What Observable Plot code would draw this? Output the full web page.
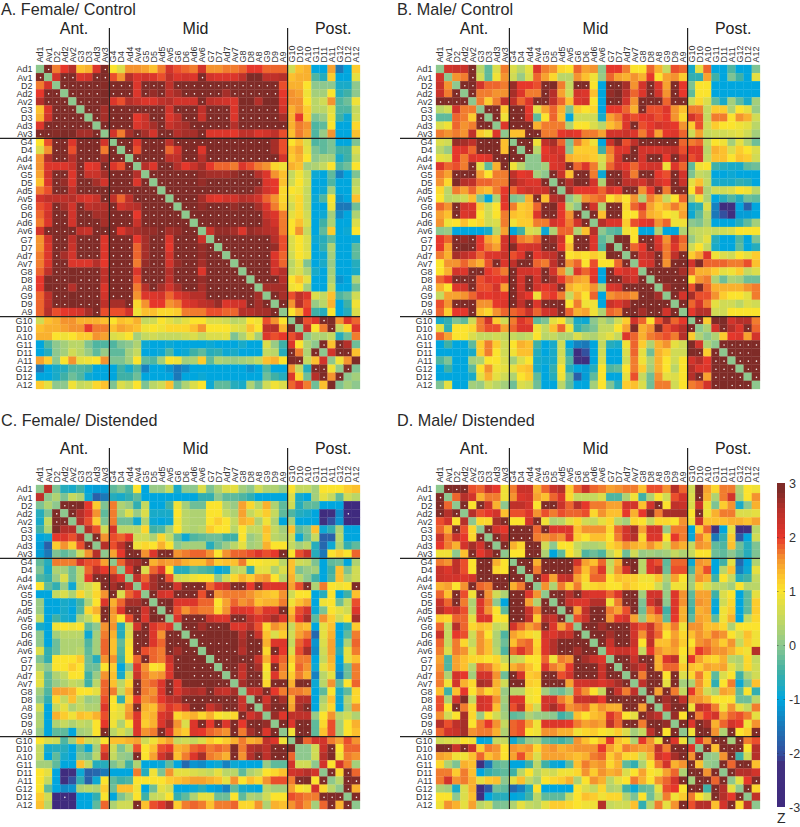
<!DOCTYPE html>
<html><head><meta charset="utf-8">
<script src="https://cdn.jsdelivr.net/npm/d3@7"></script>
<script src="https://cdn.jsdelivr.net/npm/@observablehq/plot@0.6"></script>
<style>
html,body{margin:0;padding:0;background:#fff;overflow:hidden}
#page{position:relative;width:800px;height:827px;font-family:"Liberation Sans",Arial,sans-serif;color:#2a2a2a}
#page>div{position:absolute;line-height:1;white-space:nowrap}
svg{display:block}
</style></head><body><div id="page"></div>
<script>
const labels = ["Ad1","Av1","D2","Ad2","Av2","G3","D3","Ad3","Av3","G4","D4","Ad4","Av4","G5","D5","Ad5","Av5","G6","D6","Ad6","Av6","G7","D7","Ad7","Av7","G8","D8","A8","G9","D9","A9","G10","D10","A10","G11","D11","A11","G12","D12","A12"];
const regions = [["Ant.","Av2"],["Mid","Ad6"],["Post.","A11"]];
const dividers = ["G4","G10"];
// z beyond +-3 marks a significant (dotted) cell; K is a saturated cell without dot
const S=3.5, K=3, N=-3.5;
// upper triangles: row i holds columns i+1 .. 39
const femaleControl = [
[S,1.7,2,2.5,1.3,1.4,2.1,S, 1,.7,1.6,1.6,1.5,1.3,1.7,2.2,1.9,1.8,1.7, 2.2,1.6,1.6,1.7,1.7,1.8,2,2,1.8,1.8,1.8, .6,1.3,1.4,-1,-1,1.5,-1.5,-1,1.2],
[2.2,S,S,2.1,2.2,S,S, 1.9,1.6,2.5,2.1,2.2,2.1,1.9,2.4,2.1,2.2,2.1, S,2.2,2.1,2.1,2.1,2.4,K,K,2.4,2.4,2.5, 1.3,1.4,1.4,-.4,-.7,1.2,-1,-1,.8],
[S,S,S,S,S,2.8, S,S,S,2.1,S,S,S,2.4,S,S,S, S,S,S,S,S,S,S,S,S,S,1.9, 1.4,1.4,1,0,0,0,-.8,-.8,0],
[S,S,S,S,K, S,S,S,2.1,S,2.7,S,2.4,2.6,S,S, S,S,S,2.6,S,S,S,S,S,S,2, 1.6,1.5,.9,.2,.2,1,-.7,-.5,0],
[S,S,S,K, 2.1,1.9,2.5,2.3,2.1,2.1,2.4,2.5,2.2,2.2,2.2, S,2.4,2.3,2.2,2.1,K,K,2.5,K,K,2.1, 1.6,1.6,1,.4,.6,1.6,-.4,-.2,.9],
[S,S,2.6, S,S,S,S,S,S,S,2.2,S,S,S, 2.4,S,S,S,2.1,S,S,S,S,S,2.2, 1.4,1.6,1.2,.4,.4,.8,-.4,-.4,.5],
[S,2.6, S,S,S,2,2.3,S,S,2.1,2.4,S,S, 2.3,S,S,S,2.1,S,S,S,S,S,2.6, 1.4,2,1.2,-.1,.1,.9,-.5,-.9,.6],
[S, S,S,S,2.1,2.3,2.6,S,2.3,2.5,2.6,S, S,S,S,S,2.5,S,S,S,S,S,S, 1.4,1.7,1.6,-.4,-.3,1,-1,-1,1.1],
[2.2,1.7,2.6,S,2.6,2.2,S,S,2.5,2.6,2.6, S,2.1,2.1,2.1,2,2.4,2.4,2.1,2.2,2.4,1.9, 1.3,1.7,1.5,-.4,.1,1.6,-1,-1,1.3],
[S,S,2.1,S,S,S,2.4,S,S,S, S,S,S,S,S,S,S,S,S,2.6,1.9, 1,1.3,.7,-.4,-.3,-.1,-1,-1,-.1],
[S,1.9,S,S,S,1.8,2.2,S,S, 2.1,S,S,S,S,S,S,S,S,2.6,1.9, 1.3,1.5,.8,-.1,-.3,-.1,-.5,-.5,.7],
[S,S,S,S,2.4,2.4,S,S, 2.5,S,S,S,S,S,S,S,S,S,2.2, 1.2,1.4,1,0,.2,.2,-.8,-.5,.5],
[2.5,2.1,S,S,2.5,2,2.3, 2.6,2,1.8,1.8,1.7,2.1,1.9,1.7,1.6,1.1,.9, 1.4,1.3,.2,.3,.5,1,-.4,-.2,1],
[S,S,S,S,S,S, 2.7,2.6,2.6,2.6,2.7,S,S,2.5,2.1,1.6,1.3, .5,.9,.5,-.9,-1,-.3,-1.4,-1,-.1],
[S,S,S,S,S, 2.7,S,S,S,S,S,S,S,2.1,2,1.3, .6,1,.6,-1,-1,-.4,-1,-1,.4],
[S,S,S,S, S,S,S,S,S,S,S,2.6,2.2,2,1.1, 1,.9,.5,-1,-.9,.2,-1,-1,.6],
[S,S,S, 2.6,2.1,2,2.2,2.2,2.5,2.4,2.2,1.8,1.6,1.1, .8,1.1,.5,-.9,-.4,1,-1.2,-1,1.3],
[S,S, 2.7,S,S,S,2.7,S,S,2.6,2.1,1.7,1.2, .6,1.1,.5,-1,-1,.9,-1.5,-1.5,-.2],
[S, S,S,S,S,S,S,S,S,2.3,2.1,1.7, .8,1.1,.6,-1,-.9,.2,-1.3,-1,.3],
[S,S,S,S,S,S,S,S,2.5,2.2,1.7, 1,1.3,.7,-1,-.5,.3,-1,-1,.7],
[2.3,2.7,2.7,2.6,2.1,2.7,2.6,2.5,2.4,1.7, 1,1.6,.5,-1,-.3,1.2,-1,-.9,1],
[S,S,S,S,S,S,S,2.5,1.9, .7,1,.7,-.9,-.7,-.3,-1,-1,-.9],
[S,S,S,S,S,S,2.7,1.9, .7,1,.7,-1,-.6,.3,-1,-1,-.3],
[S,S,S,S,S,2.1,1.8, .6,1,.8,-1,-.9,.2,-1,-1,-.3],
[S,S,S,S,2.2,1.8, .4,.8,-.1,-1,-.8,.1,-1,-1,-.7],
[S,S,S,2.2,2.5, .5,.7,.3,-.8,-1,.2,-1,-1,-.8],
[S,S,S,2.5, 1,1.3,.8,-1,-1,.3,-1.2,-1,.3],
[2.6,2.6,2.6, .9,1,.2,-1,-1,.5,-1,-1,-.2],
[S,2.6, 1.9,2.4,2.1,.7,.5,1.3,-.4,-.2,.6],
[S, 1.6,2.5,1.9,.1,.4,1.4,-1,-.5,.9],
[1,1.4,2,-.5,-.7,1,-1,-.7,.7],
[K,1.9,2.1,S,K,1.6,2.1,1.8],
[2.3,1,1.7,S,.5,1.1,2.1],
[.3,.3,.5,-.7,-.2,1.7],
[S,1.3,S,2.5,-.2],
[2.2,S,S,1.3],
[.9,1.6,K],
[S,-.1],
[.2],
[]
];
const maleControl = [
[2.2,2.3,2.3,S,.4,-.3,.7,1.7, .7,.4,.8,2.1,1.7,1.6,1.1,1,1.8,1.5,1.6, 0,2,2,1.7,1,1,1.8,1.4,.5,1.9,1.8, -.8,.8,1.8,-1,-1,-.4,-1,-1,-.1],
[1.6,1.7,S,.6,-.3,.9,1.6, .6,.1,.7,1.8,1.5,1.1,.4,.4,1.6,1.3,.9, .1,1.8,1.5,1.4,1.6,1.4,2,1,1.5,1.6,1.2, -.6,-.6,1.5,-.5,-1,-.1,-.5,-1,.8],
[S,S,2.2,1.8,1.8,1.7, 2.7,2,2,1.9,S,K,1.7,.5,S,S,1, -1,S,S,2.6,1.6,2.2,S,2.1,1.5,S,2, -.1,1,1,-1,-1,-1,-1,-1,-1],
[S,1.7,1.7,1.6,1.6, 2.6,2.1,1.7,1.7,S,2.5,1.5,.6,2.2,2.1,1.3, -1,2.7,K,2.4,1.8,2.1,S,2.2,1.6,S,2, -.3,1,1,-1,-1,-1,-1,-1,-1],
[1.7,1.2,1.7,2.4, 2.4,1.8,2.1,S,S,2.4,1.8,1.3,2.1,2.2,1, -1,S,S,2.2,1.6,S,S,S,1.8,S,S, .6,1.1,.7,-.3,-.8,.2,-.3,-.8,.2],
[S,S,1.2, S,S,2,.8,1.5,1.8,1.4,-.1,1.2,1,1.1, -1,2,2,1.8,1.4,S,1.9,1.9,2.1,1.6,1.3, 1.7,1.7,.5,1.2,1.2,.3,1,.8,.1],
[S,.9, S,S,2.1,-.3,1,1.8,1.3,-1,.6,.6,.6, -.8,1.5,1.7,2.1,1.9,2,2.1,1.9,2,1.6,1.1, 2.2,1.9,.5,1.7,1.7,1,1.6,1.4,.6],
[2.1, S,S,S,1.4,1.7,1.7,1.7,.3,1,1,.7, .4,1.3,1.5,2.1,S,1.9,2,2.2,2.1,2,1.6, 1.2,1.9,.6,1.2,1,1,.9,.8,.4],
[1.3,1.3,S,S,1.7,1.7,2,2.1,2,1.7,1.7, 1.5,2.2,2.2,2.3,2.1,1.7,2.1,1.5,2,2.1,1.8, .6,1.5,.5,.6,.6,.7,.8,.6,.2],
[S,S,.9,2.4,2.6,1.8,-.1,1.7,1.3,.9, -1,2.3,2.8,1.9,2.4,S,S,S,S,S,1.8, 1.7,1.8,.5,1,.9,.2,.8,.3,-.2],
[S,.4,2,2.3,2.1,0,1.2,1.2,1.2, -.5,1.7,2.1,2.1,S,2.2,2.2,2.2,2.3,2.4,1.9, 2.1,2.1,.4,1.4,1.3,.7,1.2,1,.7],
[0,2.1,2.1,2.3,1.4,1.3,1.3,1.2, .7,1.6,2.2,S,S,2.2,S,S,2,S,2.3, 1.9,2.1,.5,1.3,1.3,1,1.3,1.2,.6],
[.2,2.1,2.2,S,1.8,2.1,1.7, .6,1.8,2.2,2,1.8,2.1,2.2,2.2,.9,2.1,1.8, -.3,.9,1,-.5,-.7,-.8,-.8,-.3,-.2],
[S,2.3,1.3,S,S,1.7, -.9,S,S,2.3,1.7,S,S,2,1.9,S,2.2, -.1,.5,.4,-1,-1,-.9,-1,-1,-1],
[S,2.5,K,S,2.2, .3,2.7,S,2.4,2.4,2.2,2.6,2.2,2,S,2.3, .8,1.3,.5,-.8,-.8,-.8,-.6,-.7,-1],
[2.6,2,2,2, 1.8,2.2,2,S,S,1.6,2,S,1.7,S,S, 1,1.8,.3,.6,.6,.7,1,.9,.4],
[.4,1.6,1.7, 1.8,1,1.3,1,1.6,.3,1.7,1.4,.5,1,1.8, .2,.9,.3,-1,-.7,-.4,-.7,-.2,-.3],
[S,2.2, .3,S,S,1.1,1.8,2.1,1.5,1.2,1.4,1.7,1.4, -.8,-.6,.7,-1.4,-2.7,-2.2,-1,-1.8,-1],
[S, 1.3,S,S,1,1,1.8,1.4,1.3,1,.9,1.5, -.9,-.3,.4,-1.5,-2,-2.5,-1.1,-1.1,-1],
[2.5,2.1,2.1,1.2,1.9,2,2.1,1.6,1.8,.9,.9, 0,-.1,.3,-1,-1,-1,-.7,-.3,.2],
[-.3,-.4,.9,1,-1,-1,.3,-1,-1,.3, .4,.5,.6,.5,.6,.7,1,1,1],
[K,K,1,S,S,2.1,1.6,2.3,1.8, .1,.5,.8,-.7,-1,-1,-.4,-1,-.1],
[S,1.8,2,S,2.2,1.7,2.1,1.7, .6,1,.5,-.8,-1,-1,-.3,-1,-.7],
[S,2.2,2.4,S,1.7,2.4,S, 1.2,1.5,2.1,.9,.7,.6,1,.8,1.2],
[2.1,2.2,S,1.6,S,S, 2.2,K,1.8,1.8,1.8,1.7,1.7,1.9,1.3],
[S,S,S,S,2.6, 1.8,1.4,1.4,1.2,.8,.9,1.2,.5,.7],
[S,K,S,S, 1,1.6,1.7,.3,-.2,.3,.2,-.2,-.2],
[2.6,S,S, 1.9,K,1.8,1.4,1.4,1.4,1.4,1.6,1.7],
[S,2.2, 2.6,1.9,1.9,1.6,1.2,1,1,.8,1.7],
[S, 1.8,2.2,1.7,.8,.6,.6,.4,.7,.6],
[2,2.5,2.5,.6,.6,1,1,1,1],
[S,1.2,K,K,2.2,2.5,2.5,1.7],
[.3,2.2,S,2.5,2.1,S,1.8],
[.3,1.2,2,2.1,1.5,2.2],
[S,S,S,S,S],
[S,S,S,K],
[S,S,S],
[S,S],
[S],
[]
];
const femaleDistended = [
[2.4,-.1,-.7,-.8,-.5,-1,-1.1,-1.1, -.3,-.1,-.4,1,-1,.1,.1,.5,-.8,0,0, .7,-.1,.3,.7,.8,.2,0,.6,.3,.3,.1, 1,.5,.5,.2,1,1,1,1.2,1.3],
[.3,-.1,.5,.3,-.9,-1.8,-1.5, -.7,-.8,-.6,-.3,-1,-1,-1,-1,-1,-1,-1, -.6,-.6,0,-.3,-.3,-.4,-.6,-1,-1,-1,-1, .7,-.8,-1,.2,.8,.5,-.3,.6,.4],
[S,S,K,2,1.2,-.1, 1.7,.3,.1,-.6,.5,-1,-1,-.5,.9,.2,-.2, -.2,1,1,.3,.1,1.5,1.1,.5,1.4,.3,-.3, .6,-.7,-.3,-.3,-1,-1,-1,-3,-3],
[S,2.5,2.1,1.6,-.3, 1.7,.2,.7,.1,.7,-.8,-.8,-.8,1,.4,.3, .3,1,1,.5,.3,1.5,.5,.8,1.2,.5,-.3, -.4,-.7,-.8,-1,-2.8,-2.3,-1.3,N,-3],
[2.5,1.9,1.2,-.1, 1.7,-.2,-.2,-.9,.3,-.9,-1,-.9,.9,.4,.3, .3,1,1.2,1,.5,1.4,1.3,.3,.9,.3,-1, .2,-1,-1,-1,-2.2,-2,-1.2,-3,-2.8],
[2.5,1.9,.6, 2.2,.4,.4,.4,1.1,-.5,-.4,.2,1,.4,.3, .4,1.2,1,1,.4,1,.5,.5,1.3,.5,.2, 1.3,-.3,-.1,1.3,-.9,-.6,.3,-1,-1],
[S,1.6, 1.9,1.8,2,.6,.6,.3,1.1,.5,-.3,-.9,-.4, -.3,-.2,-.2,-.5,-.5,1,.1,.3,1.2,.4,.3, .6,-.9,-.2,.5,-1.8,-1.8,.4,-1,-1],
[2.5, 1.9,2.4,S,.9,1.1,1,1.4,1,0,.2,.2, .2,-.7,-.2,.1,.4,.8,.2,.3,1.4,1,1, .5,.2,.4,-.7,-1.7,-.9,.3,-.6,-.3],
[1.5,2,S,S,1.6,2.1,S,S,1.6,1.7,1.8, 1.8,1.6,1,1.6,1.8,1.8,1.9,2.1,1.9,2,S, 1,1.9,2.3,-.7,-1.5,1,1.2,1,1.8],
[1.8,2.5,2.6,S,1.4,1.6,1.5,1.6,1.4,1.3, 1.3,1.6,1.2,1.3,1.3,1.7,1,1,.9,.9,.4, 1.3,.6,.5,-.1,-1,-.3,-.2,-1,.3],
[2.1,S,.7,1.8,2.1,1,-.7,-.7,-.3, -.4,-.5,-1,-.8,.4,.5,-.6,.8,.8,.3,.7, 1.3,-.1,.1,.2,-1,-.5,1.3,-.1,.6],
[2.4,1.8,2.6,S,1.9,.6,.7,.9, 1,1,0,.6,1.1,1.4,1.2,1.5,1.6,1,.4, 1.4,.4,0,-.5,-1,-.4,1.3,.3,.6],
[2.1,2.6,S,S,2.2,S,S, S,1.8,2.1,2.3,S,S,2,S,2.1,2.1,2.1, 1.5,1.9,S,.3,1.7,1,.9,1,S],
[S,2.2,2.1,S,S,S, 1.9,S,1.6,1.7,1.7,1.7,1.6,1.4,1.3,1.2,1.6, .6,1,1,-1,-.7,1,-1,-.5,1.3],
[S,K,2.1,2.1,2.1, 1.8,1.8,1,1.5,1.8,1.6,1.7,1.3,1.4,1.4,1.7, .9,1.3,1.5,-1,.9,1,-.2,.5,1.9],
[S,1.9,1.6,1.8, 1.7,1.7,1.1,1.6,2.1,2.1,2,1.8,2.1,2.1,S, 1.3,1.9,2.2,-.9,-.1,1,.8,.6,2.1],
[2.1,S,S, S,2.3,2.1,2.1,S,S,2.4,2.1,2.3,2.6,2.1, 1.5,2,2.6,-.3,1.6,1.2,.6,1,2.6],
[S,S, 2.6,S,S,K,2.1,2.1,2.5,1.9,1.1,1.6,1.4, .5,1.4,1.3,-1,.8,1.3,-1,-.6,1.2],
[S, S,K,K,K,K,2.5,S,2.3,1.3,.7,1.2, .6,1.5,1.7,-1.7,.8,1.4,-1,-.3,1.7],
[S,S,S,S,K,2.6,S,S,1.4,2.1,2.1, .5,1.8,2.1,-1.2,.7,1.5,-.9,.3,1.8],
[K,S,S,S,2.5,S,S,1.1,S,2, .7,1.9,2.6,-1.3,.6,1.5,-.7,.8,1.7],
[S,S,K,S,S,2.3,1.4,2,1.8, 1.2,1.7,1.7,-1,.5,1.4,-1,.8,1.3],
[S,S,2.4,S,2.6,1,S,1.7, 1,1.8,1.6,-.9,.8,1.3,-1.1,-.2,1.7],
[S,2.3,S,S,.9,2.1,1.6, 1.2,1.7,1.4,-1.4,.4,.8,-1.4,-.2,1.7],
[2.6,S,S,1.1,S,S, 1.4,K,S,-.9,.4,1.6,-.3,1,1.8],
[2.3,2.3,S,2,1.7, 1.7,1.7,1.6,-1,-.3,1,-.8,-.3,1.1],
[S,2.2,S,2.6, 1.4,2.5,2.5,-1,.3,1.3,-.9,.3,1.1],
[2.5,S,S, 1.5,2.6,S,-1,.5,1.1,-1,.2,1.6],
[2.7,2.1, 2.4,2.4,2.4,.1,1,1.6,.4,.6,.3],
[S, 2.1,S,S,-.3,1.1,1.9,.2,1,1.4],
[.9,S,S,-.3,1.3,1.9,.2,1,1.3],
[K,1.8,2.2,2.2,1.7,1.5,1.9,1.6],
[0,.6,2.3,S,1,1.8,1.8],
[.6,2.5,K,.9,1.7,1.6],
[2.2,1,2.2,1.7,.2],
[S,1.1,S,1.8],
[.4,S,S],
[S,1.4],
[S],
[]
];
const maleDistended = [
[S,S,S,1.9,1.8,2.3,2,.9, 1.7,2.3,2.3,1.4,1.8,2.3,2.5,1.2,1.8,2.3,1.8, 1.7,1.5,1.6,1.7,1.7,1.3,1.9,1.9,1.6,2.5,1.8, .6,K,1.5,1.1,1.7,1.7,.3,1,.9],
[1.8,2.5,2.2,1.4,1.7,1.7,.9, 1.6,2.1,2.2,1.5,1.3,1.8,2.1,1.1,.5,.5,.5, .7,-.4,-.4,.3,.9,-.5,.3,1,.6,1.9,2.2, .7,S,1.4,.3,1.7,2.2,.2,1,1.6],
[S,1,S,2.3,1.4,0, 2.4,2.4,2.2,1,S,S,2.3,1.8,2.5,2,1.7, 1.7,1.5,1.5,2.2,2.2,1.3,2.2,S,1,2.4,2.3, .7,2.3,.9,-.1,1.2,1.6,-.8,0,1.4],
[2.5,1.9,2,2.2,1.3, 1.9,1.9,2.1,1.6,1.9,1.7,1.9,1.8,1.8,1.9,1.1, 1.6,1.3,1.3,2,1.4,2,K,1.7,2.6,2.6,2.6, 1,S,.9,1.4,1.7,1.7,.7,.7,.8],
[1.1,1.1,2.6,S, 1,1,2.2,S,.9,.3,.4,.8,1.1,.6,.5, .8,1.1,.4,.2,1.1,1,.5,1.1,1.1,1,1.6, .9,2.3,1.3,1.3,1.3,1.4,1.4,1.3,1.5],
[S,2.2,2, S,S,S,1.8,S,2.1,2.1,2.1,1.3,1.6,1.6, 1.6,1.1,1.8,2.2,2.6,1.5,2.2,2.2,.1,1.7,1.7, -1,1.2,1.8,-2.2,-1,.8,-2.5,-2.2,.4],
[S,2.4, S,S,S,1.7,1.6,1.7,1.6,2.1,1.2,1,1.3, 1.3,1,1.7,2.2,2.5,1.1,2.1,2.1,1,2,1.7, -.9,1.7,1.3,-1.5,-.6,1.2,-1.9,-1,.6],
[S, 1.4,1.1,S,S,.6,0,1,1,.5,.3,.3, .4,1.1,1.3,1.6,1.4,1.3,1.6,1.3,.6,1.6,1.4, .5,1.6,1.5,-.3,-.4,1.3,-.2,-.7,-.1],
[1,1,S,S,.3,-1,-.3,1,.6,-.4,-.2, -.4,.5,.9,-.2,.6,.1,.2,.1,.2,.5,.3, .5,1,1,-.2,-.3,0,-.3,-.7,-.1],
[S,S,1.4,S,S,S,S,2.2,1.5,1.3, 1.8,.5,1.4,S,S,.4,2.1,1.9,-.3,1.8,1.8, -.9,1.6,1.5,-1,-.5,.8,-1.7,-1,.3],
[S,1.7,S,S,S,S,1.8,1.3,1.7, 2.1,.6,1.6,2.2,S,.4,2.1,2.4,-.2,1.9,1.9, -.4,1.5,1.9,-1,.4,1.3,-1.4,-.9,.8],
[S,2.1,1.5,2.3,2.4,1.5,1.1,1.8, 1.8,1,1.3,1.2,1.2,.9,.9,1.3,.3,1.5,1, .1,1.6,1.4,-.5,1,.5,-.7,-.5,.5],
[1.6,.3,1.7,1.2,1.7,.9,1.1, 1.2,1,1,1.3,1.1,1,1,.6,.1,.9,.9, .2,1.1,.7,.4,.4,.2,1,.4,.4],
[S,S,2.5,S,2.2,2.1, 2.1,1.8,2.1,S,S,.2,2.2,2.2,.1,2.1,1.6, -.3,1.5,1.5,-.5,.7,1,-1,-.3,.8],
[S,2.3,2.1,2.1,2.5, 2.5,.9,1.7,S,S,-.1,2.2,2.6,0,2.1,1.6, -.4,1.6,1.5,-.9,.6,1.1,-1,-.3,1.2],
[S,1.5,2.4,S, S,1.7,1.5,1.9,S,-.2,1.7,2.1,-.5,2.1,1.4, -.5,1.4,1.5,-1,.9,1.2,-1,-.3,1.2],
[1.9,2.3,S, S,1.6,2,2.2,1.5,.1,1.4,1.6,-.3,2,1.4, -.3,1.5,1.4,-.3,.9,1.4,-1,.5,1.1],
[S,S, 2.6,S,S,S,2.2,1.9,2.3,1.7,1.3,1.7,.9, 1.6,1.6,1.3,1.3,1.1,.3,1,1,1],
[S, S,2.6,S,S,2.2,1.6,2.3,1.8,1,1.5,1.1, 1.3,1.6,1.4,1.7,1.6,1,.7,1.3,.9],
[S,2.3,S,S,2.3,1,2.4,1.3,1.3,1.6,1.2, 1,1.6,1.7,1.5,1.2,1.6,.5,1.2,.9],
[2.1,2.3,2.3,2.1,.5,2,1.6,1.4,1.5,1, 1.3,2,1.8,1.6,1.6,1.4,1.1,.9,2.5],
[S,S,2.3,S,S,1.4,2.1,2.4,.9, 2,1.5,1.2,1.1,1.4,.4,.3,1.1,.5],
[S,2.6,2.3,S,1.4,1.8,1.8,1.2, 1.3,1.2,1.5,1.4,1.5,.8,.4,1.1,.6],
[S,1.7,S,S,1,S,.7, 1.1,1.7,1.1,-.3,.7,1,-.5,.3,.6],
[2.4,S,S,.8,S,.2, .3,1.6,1.1,-.6,1,1.7,-.9,-.1,1.3],
[S,1.5,S,1.7,.5, 2,1.5,.6,.3,1.5,1.4,-.3,1,-.6],
[S,2.6,S,2.4, 1.6,1.6,1.4,1,1,1,-.2,-.2,.4],
[2.4,S,S, .9,2.4,2.2,1.7,.9,1.6,.8,.5,1.7],
[2.7,1, S,1.7,2,2.2,1.5,1.8,1.9,1.7,.8],
[S, 2.1,S,2.6,1.4,1.8,2.2,2,.9,1.6],
[.9,S,S,1.6,.3,S,1,1.2,S],
[2.1,1.6,S,S,.2,S,1.7,1.9],
[S,1.3,S,S,S,1,2.5],
[.1,1.6,S,-.5,.6,2.5],
[S,1.8,S,S,1.3],
[S,2.5,2.5,2.2],
[.8,2,S],
[S,1.1],
[2.4],
[]
];
const zStops  = [-3,-2.2,-2,-1.5,-1,-.5,0,.5,1,1.3,1.6,2,2.5,2.85,3];
const zColors = ["#3f2a7e","#40307f","#33509f","#1b78b8","#00a6de","#3fb0a6","#8ec88e","#c5d95f","#fbe32d","#fcc02e","#f4932f","#e6372b","#b5302a","#7f2b27","#7f2b27"];
const legendTicks = [-3,-2,-1,0,1,2,3];
const legendLevels = d3.range(-3,3,6/64);

const colorScale = {type:"linear",domain:zStops,range:zColors,clamp:true};
const font = '"Liberation Sans",Arial,sans-serif';
function cellsOf(rows){
  const out=[];
  labels.forEach((a,i)=>labels.forEach((b,j)=>{
    const z = i===j ? 0 : i<j ? rows[i][j-i-1] : rows[j][i-j-1];
    out.push({col:b,row:a,z});
  }));
  return out;
}
function panel(rows){
  const cells = cellsOf(rows);
  return Plot.plot({
    width:400,height:392,marginLeft:36,marginRight:40,marginTop:65,marginBottom:3,
    style:{fontFamily:font,background:"transparent",overflow:"visible"},
    x:{domain:labels,padding:0,round:false,axis:null},
    y:{domain:labels,padding:0,round:false,axis:null},
    color:colorScale,
    marks:[
      Plot.cell(cells,{x:"col",y:"row",fill:"z",stroke:"z",strokeWidth:.25}),
      Plot.dot(cells.filter(d=>Math.abs(d.z)>3),{x:"col",y:"row",r:0.8,fill:"#f4f0ee",stroke:null}),
      Plot.axisX({anchor:"top",label:null,tickSize:0,tickPadding:3,tickRotate:-90,fontSize:9,fill:"#333"}),
      Plot.axisY({anchor:"left",label:null,tickSize:0,tickPadding:4,fontSize:9,fill:"#333"}),
      Plot.ruleX(dividers,{dx:-4.05,insetTop:-37,stroke:"#222",strokeWidth:1.2}),
      Plot.ruleY(dividers,{dy:-4.05,insetLeft:-36,stroke:"#222",strokeWidth:1.2}),
      Plot.text(regions,{x:d=>d[1],text:d=>d[0],frameAnchor:"top",dx:1,dy:-43,fontSize:16,fill:"#222"})
    ]
  });
}
function legend(){
  return Plot.plot({
    width:40,height:350,marginLeft:17,marginRight:15,marginTop:13,marginBottom:13,
    style:{fontFamily:font,background:"transparent",overflow:"visible"},
    x:{domain:[0,1],axis:null},
    y:{domain:[-3,3],axis:null},
    color:colorScale,
    marks:[
      Plot.rect(legendLevels,{x1:()=>0,x2:()=>1,y1:d=>d,y2:d=>d+6/64,fill:d=>d+3/64,shapeRendering:"crispEdges"}),
      Plot.axisY({anchor:"right",label:null,ticks:legendTicks,tickSize:0,tickPadding:3.5,fontSize:12.6,fill:"#333",tickFormat:d=>String(d)}),
      Plot.tickY(legendTicks.slice(1,-1),{stroke:"#333",strokeWidth:.7,strokeDasharray:"1.5 5 1.5",strokeOpacity:.7})
    ]
  });
}
const page=document.getElementById("page");
function place(node,left,top){const d=document.createElement("div");d.style.left=left+"px";d.style.top=top+"px";d.append(node);page.append(d);return d;}
function label(text,left,top,size){const d=place(document.createTextNode(text),left,top);d.style.fontSize=size+"px";return d;}
place(panel(femaleControl),0,0);
place(panel(maleControl),400,0);
place(panel(femaleDistended),0,420);
place(panel(maleDistended),400,420);
place(legend(),760,470);
label("A. Female/ Control",1,1,16.2);
label("B. Male/ Control",397,1,16.2);
label("C. Female/ Distended",1,412,16.2);
label("D. Male/ Distended",397,412,16.2);
label("Z",777,811,14);
</script></body></html>
